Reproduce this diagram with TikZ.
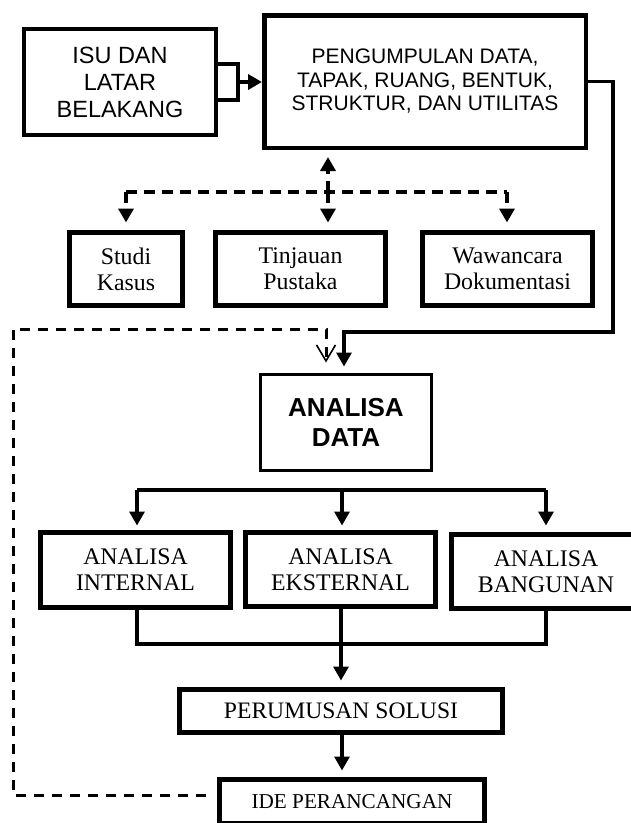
\documentclass[tikz,border=0pt]{standalone}
\usepackage{fontspec}
\setmainfont{Liberation Serif}
\newfontfamily\arialf{Liberation Sans}
\usetikzlibrary{arrows.meta}
\begin{document}
\begin{tikzpicture}[x=1pt,y=-1pt,
  box/.style={draw, rectangle, inner sep=0pt, align=center},
  thickbox/.style={box, line width=5pt},
  tri/.style={-{Triangle[length=14pt,width=15pt]}},
  vee/.style={-{Straight Barb[length=16pt,width=19pt,line width=1.6pt]}},
  conn/.style={line width=3.2pt},
  hubdash/.style={line width=3.6pt, dash pattern=on 11pt off 7pt},
  fbdash/.style={line width=3pt, dash pattern=on 10pt off 8pt},
  serifbig/.style={font=\fontsize{23.8}{26}\selectfont},
]
\clip (0,0) rectangle (631,823);
\fill[white] (0,0) rectangle (631,823);

% top row
\node[box, line width=4.3pt, minimum width=191.7pt, minimum height=105.7pt,
  font=\arialf\fontsize{23.5}{27}\selectfont] (isu) at (120,82) {ISU DAN\\LATAR\\BELAKANG};
\node[box, line width=4.5pt, minimum width=321.5pt, minimum height=132.5pt,
  font=\arialf\fontsize{21}{23.5}\selectfont] (peng) at (425,81.5)
  {PENGUMPULAN DATA,\\TAPAK, RUANG, BENTUK,\\STRUKTUR, DAN UTILITAS};

% second row
\node[thickbox, serifbig, minimum width=113pt, minimum height=73pt] (studi) at (126,269) {Studi\\Kasus};
\node[thickbox, serifbig, minimum width=170pt, minimum height=73pt] (tinj) at (300.5,269) {Tinjauan\\Pustaka};
\node[thickbox, serifbig, minimum width=170pt, minimum height=73pt] (waw) at (507.5,269) {Wawancara\\Dokumentasi};

% analisa data
\node[box, line width=3.3pt, minimum width=170.7pt, minimum height=95.7pt,
  font=\arialf\bfseries\fontsize{26}{30}\selectfont] (ad) at (346,422.5) {ANALISA\\DATA};

% third row
\node[thickbox, serifbig, minimum width=190pt, minimum height=75pt] (aint) at (135.5,570) {ANALISA\\INTERNAL};
\node[thickbox, serifbig, minimum width=190pt, minimum height=74pt] (aeks) at (340.5,569.5) {ANALISA\\EKSTERNAL};
\node[thickbox, serifbig, minimum width=189pt, minimum height=74pt] (aban) at (546,571.5) {ANALISA\\BANGUNAN};

% bottom
\node[thickbox, font=\fontsize{23.6}{26}\selectfont, minimum width=323pt, minimum height=43pt] (perum) at (341,711) {PERUMUSAN SOLUSI};
\node[thickbox, font=\fontsize{21.2}{24}\selectfont, minimum width=265pt, minimum height=44pt] (ide) at (352,801.5) {IDE PERANCANGAN};

% bracket from ISU to PENG
\draw[line width=4pt] (isu.east |- 0,64) -- (238,64) -- (238,100) -- (isu.east |- 0,100);
\coordinate (br) at (238,82);
\draw[line width=4pt, tri] (br) -- (peng.west |- br);

% route from PENG to ANALISA DATA
\coordinate (r1) at (613,81.5);
\coordinate (r2) at (613,332);
\coordinate (r3) at (344,332);
\draw[conn, tri, shorten >=6.5pt] (peng.east) -- (r1) -- (r2) -- (r3) -- (r3 |- ad.north);

% dashed hub
\coordinate (hl) at (126,192);
\coordinate (hm) at (328,192);
\coordinate (hr) at (507,192);
\draw[hubdash] (hl) -- (hr);
\draw[hubdash, tri, shorten >=7pt] (hm) -- (hm |- peng.south);
\draw[hubdash, tri, shorten >=7.5pt] (hl) -- (hl |- studi.north);
\draw[hubdash, tri, shorten >=7.5pt] (hm) -- (hm |- tinj.north);
\draw[hubdash, tri, shorten >=7.5pt] (hr) -- (hr |- waw.north);

% feedback dashed from IDE to ANALISA DATA
\coordinate (f1) at (13,795);
\coordinate (f2) at (13,329);
\coordinate (f3) at (326,329);
\draw[fbdash, vee, shorten <=11pt, shorten >=10.5pt] (ide.west |- f1) -- (f1) -- (f2) -- (f3) -- (f3 |- ad.north);

% branch from analisa data
\coordinate (b1) at (137,490);
\coordinate (b2) at (342,490);
\coordinate (b3) at (546,490);
\draw[conn] (b1) -- (b3);
\draw[conn, tri, shorten >=4.5pt] (b1) -- (b1 |- aint.north);
\draw[conn, tri, shorten >=4.5pt] (b2) -- (b2 |- aeks.north);
\draw[conn, tri, shorten >=6.5pt] (b3) -- (b3 |- aban.north);

% join to perumusan
\coordinate (j1) at (137,644);
\coordinate (j2) at (341,644);
\coordinate (j3) at (546,644);
\draw[conn] (j1 |- aint.south) -- (j1) -- (j3) -- (j3 |- aban.south);
\draw[conn] (j2 |- aeks.south) -- (j2);
\draw[conn, tri, shorten >=6.5pt] (j2) -- (j2 |- perum.north);
\coordinate (p1) at (342,0);
\draw[conn, tri, shorten >=6.5pt] (p1 |- perum.south) -- (p1 |- ide.north);
\end{tikzpicture}
\end{document}
